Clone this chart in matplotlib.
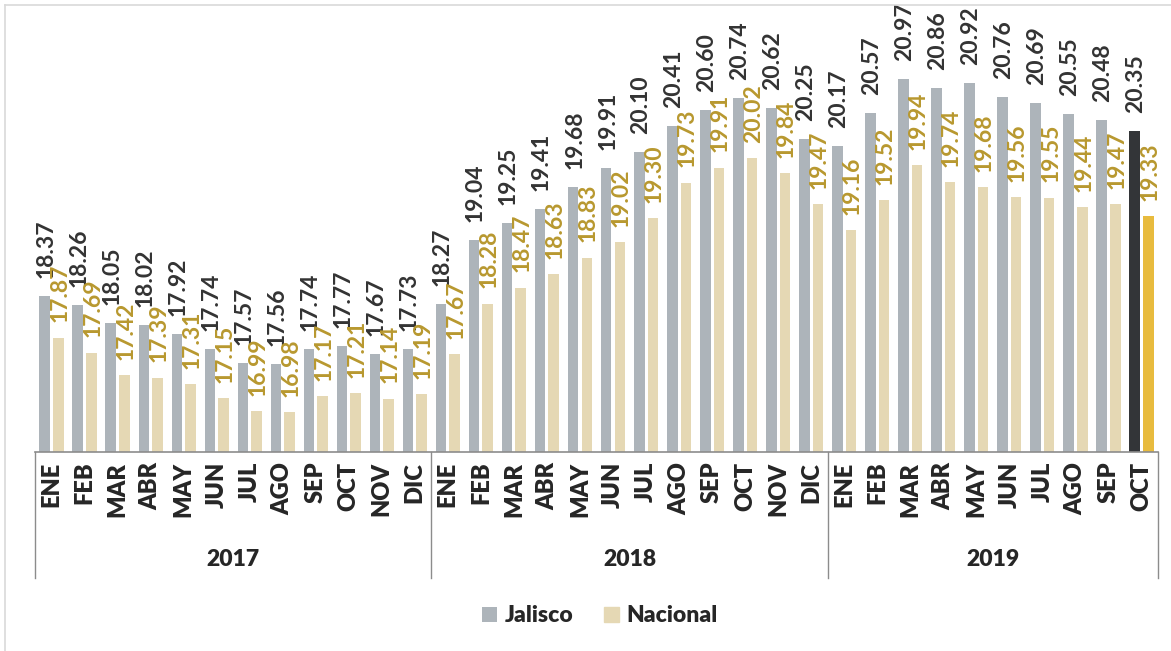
import matplotlib.pyplot as plt
import numpy as np
from matplotlib.lines import Line2D

plt.rcParams["font.family"] = ["Lato", "DejaVu Sans"]

months_2017 = ["ENE", "FEB", "MAR", "ABR", "MAY", "JUN", "JUL", "AGO", "SEP", "OCT", "NOV", "DIC"]
months_2018 = ["ENE", "FEB", "MAR", "ABR", "MAY", "JUN", "JUL", "AGO", "SEP", "OCT", "NOV", "DIC"]
months_2019 = ["ENE", "FEB", "MAR", "ABR", "MAY", "JUN", "JUL", "AGO", "SEP", "OCT"]
years = ["2017", "2018", "2019"]

jalisco = [
    18.37, 18.26, 18.05, 18.02, 17.92, 17.74, 17.57, 17.56, 17.74, 17.77, 17.67, 17.73,
    18.27, 19.04, 19.25, 19.41, 19.68, 19.91, 20.10, 20.41, 20.60, 20.74, 20.62, 20.25,
    20.17, 20.57, 20.97, 20.86, 20.92, 20.76, 20.69, 20.55, 20.48, 20.35,
]
nacional = [
    17.87, 17.69, 17.42, 17.39, 17.31, 17.15, 16.99, 16.98, 17.17, 17.21, 17.14, 17.19,
    17.67, 18.28, 18.47, 18.63, 18.83, 19.02, 19.30, 19.73, 19.91, 20.02, 19.84, 19.47,
    19.16, 19.52, 19.94, 19.74, 19.68, 19.56, 19.55, 19.44, 19.47, 19.33,
]

JAL_COLOR = "#adb4ba"
NAC_COLOR = "#e5d8b4"
JAL_LAST = "#333538"
NAC_LAST = "#e8bb3e"
JAL_TEXT = "#333333"
NAC_TEXT = "#b8982f"
LINE_GRAY = "#8c8c8c"

W, H = 1171, 651
fig = plt.figure(figsize=(W / 100, H / 100), dpi=100)
ax = fig.add_axes([35 / W, 1 - 452 / H, (1158 - 35) / W, (452 - 10) / H])

months = months_2017 + months_2018 + months_2019
n = len(months)
x = np.arange(n)
bw = 0.32
off = 0.206

jal_colors = [JAL_COLOR] * (n - 1) + [JAL_LAST]
nac_colors = [NAC_COLOR] * (n - 1) + [NAC_LAST]
ax.bar(x - off, jalisco, bw, color=jal_colors, label="Jalisco", zorder=2)
ax.bar(x + off, nacional, bw, color=nac_colors, label="Nacional", zorder=2)

for xi, v in zip(x, jalisco):
    ax.annotate(f"{v:.2f}", (xi - off, v), xytext=(1, 13), textcoords="offset points",
                rotation=90, ha="center", va="bottom", fontsize=16.5,
                fontweight="bold", color=JAL_TEXT, zorder=3)
for xi, v in zip(x, nacional):
    ax.annotate(f"{v:.2f}", (xi + off, v), xytext=(1, 11), textcoords="offset points",
                rotation=90, ha="center", va="bottom", fontsize=16.5,
                fontweight="bold", color=NAC_TEXT, zorder=3)

ax.set_xlim(-0.5, n - 0.5)
ax.set_ylim(16.5, 21.8)
ax.set_yticks([])
for s in ["left", "right", "top"]:
    ax.spines[s].set_visible(False)
ax.spines["bottom"].set_color(LINE_GRAY)
ax.spines["bottom"].set_linewidth(1.2)

ax.set_xticks(x)
ax.set_xticklabels(months, rotation=90, fontsize=17, fontweight="heavy", color="#262626")
ax.tick_params(axis="x", length=0, pad=7)

# year group separators and labels
trans = ax.get_xaxis_transform()
bounds = [0, len(months_2017), len(months_2017) + len(months_2018), n]
for b in bounds:
    ax.add_line(Line2D([b - 0.5, b - 0.5], [0, -0.285], transform=trans,
                       color=LINE_GRAY, lw=1, clip_on=False))
for yr, a, b in zip(years, bounds[:-1], bounds[1:]):
    ax.text((a + b - 1) / 2, -0.244, yr, transform=trans, ha="center", va="center",
            fontsize=16.5, fontweight="heavy", color="#262626")

leg = fig.legend(loc="center", bbox_to_anchor=(600 / W, 1 - 616 / H), ncol=2,
                 frameon=False, handlelength=0.65, handleheight=0.65, handletextpad=0.35,
                 columnspacing=1.3, prop={"size": 16.5, "weight": "heavy"})
for t in leg.get_texts():
    t.set_color("#262626")
leg.legend_handles[1].set_color(NAC_COLOR)

# outer frame of the chart area
fig.add_artist(Line2D([5 / W, 5 / W], [0, 1 - 5 / H], color="#d9d9d9", lw=1.2))
fig.add_artist(Line2D([5 / W, 1], [1 - 5 / H, 1 - 5 / H], color="#d9d9d9", lw=1.2))

fig.savefig("out.png", dpi=100)
